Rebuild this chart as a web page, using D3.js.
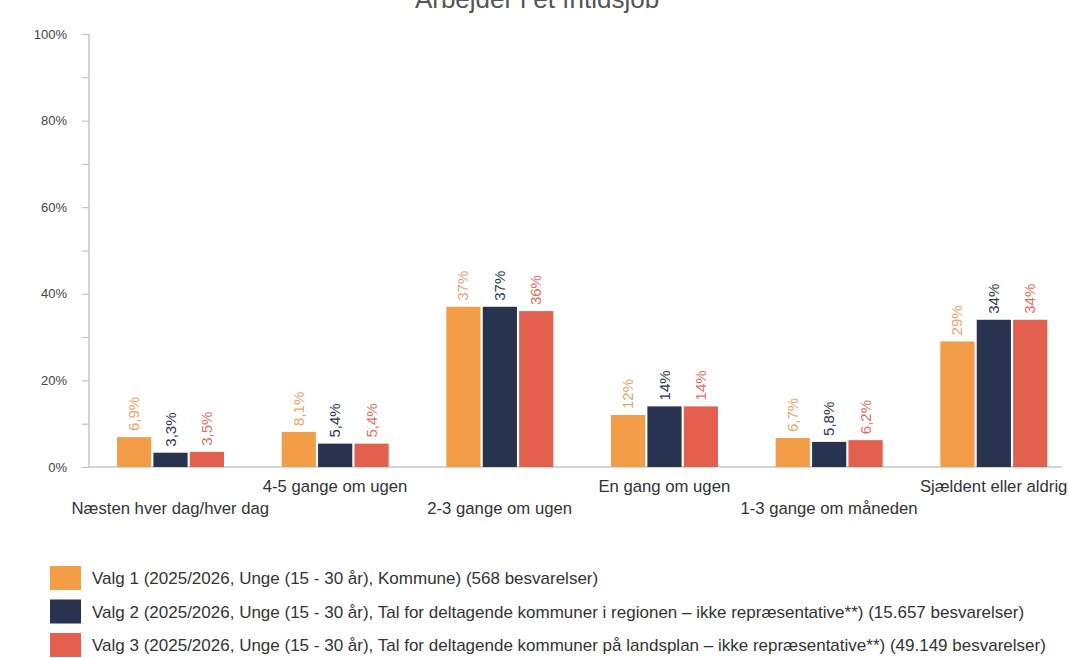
<!DOCTYPE html>
<html>
<head>
<meta charset="utf-8">
<script src="https://cdn.jsdelivr.net/npm/d3@7"></script>
<style>
  body { margin: 0; background: #fff; }
  svg { font-family: "Liberation Sans", Arial, sans-serif; }
</style>
</head>
<body>
<div id="chart"></div>
<script>
const categories = [
  'Næsten hver dag/hver dag',
  '4-5 gange om ugen',
  '2-3 gange om ugen',
  'En gang om ugen',
  '1-3 gange om måneden',
  'Sjældent eller aldrig'
]
const seriesNames = [
  'Valg 1 (2025/2026, Unge (15 - 30 år), Kommune) (568 besvarelser)',
  'Valg 2 (2025/2026, Unge (15 - 30 år), Tal for deltagende kommuner i regionen – ikke repræsentative**) (15.657 besvarelser)',
  'Valg 3 (2025/2026, Unge (15 - 30 år), Tal for deltagende kommuner på landsplan – ikke repræsentative**) (49.149 besvarelser)'
]
const valg1 = [6.9, 8.1, 37, 12, 6.7, 29]
const valg2 = [3.3, 5.4, 37, 14, 5.8, 34]
const valg3 = [3.5, 5.4, 36, 14, 6.2, 34]
const yTicks = [0, 20, 40, 60, 80, 100]

const barColors = ['#f39d48', '#28344f', '#e3604f']
const labelColors = ['#e7a56b', '#2e3852', '#e0705f']

const width = 1069, height = 658
const svg = d3.select('#chart').append('svg')
    .attr('width', width)
    .attr('height', height)

const x0 = d3.scaleBand().domain(d3.range(categories.length)).range([88, 1076])
const x1 = d3.scaleBand().domain([0, 1, 2]).range([29, 136]).paddingInner(0.06)
const y = d3.scaleLinear().domain([0, 100]).range([467, 34])

// title (cut at top edge like the reference)
svg.append('text')
    .attr('x', 537)
    .attr('y', 8)
    .attr('text-anchor', 'middle')
    .style('font-size', '26px')
    .style('fill', '#555')
    .text('Arbejder i et fritidsjob')

// y axis
const yAxis = svg.append('g')
    .attr('transform', 'translate(89,0)')
    .call(d3.axisLeft(y).tickValues(d3.range(0, 101, 10)).tickSize(7).tickFormat(d => yTicks.includes(d) ? d + '%' : ''))
yAxis.select('.domain').attr('stroke', '#aaa').attr('d', 'M0,' + y(100) + 'V' + y(0))
yAxis.selectAll('.tick line').attr('stroke', '#bbb')
yAxis.selectAll('.tick text')
    .attr('x', -22)
    .style('font-size', '13px')
    .style('fill', '#444')
    .style('font-family', '"Liberation Sans", Arial, sans-serif')

// baseline
svg.append('line')
    .attr('x1', 89).attr('x2', 1062)
    .attr('y1', y(0)).attr('y2', y(0))
    .attr('stroke', '#aaa')

const rows = categories.map((c, i) => [valg1[i], valg2[i], valg3[i]])
const fmt = v => (Number.isInteger(v) ? v : v.toFixed(1).replace('.', ',')) + '%'

const groups = svg.append('g').selectAll('g')
    .data(rows)
  .enter().append('g')
    .attr('transform', (d, i) => 'translate(' + x0(i) + ',0)')

groups.selectAll('rect')
    .data(d => d)
  .enter().append('rect')
    .attr('x', (d, j) => x1(j))
    .attr('width', x1.bandwidth())
    .attr('y', d => y(d))
    .attr('height', d => y(0) - y(d))
    .attr('fill', (d, j) => barColors[j])

groups.selectAll('text')
    .data(d => d)
  .enter().append('text')
    .attr('transform', (d, j) => 'translate(' + (x1(j) + x1.bandwidth() / 2 + 5) + ',' + (y(d) - 6) + ')rotate(-90)')
    .style('font-size', '15px')
    .style('fill', (d, j) => labelColors[j])
    .text(d => fmt(d))

// category labels, staggered
svg.append('g').selectAll('text')
    .data(categories)
  .enter().append('text')
    .attr('x', (d, i) => x0(i) + x0.bandwidth() / 2)
    .attr('y', (d, i) => i % 2 === 0 ? 514 : 492)
    .attr('text-anchor', 'middle')
    .style('font-size', '16.7px')
    .style('fill', '#333')
    .text(d => d)

// legend
const legend = svg.append('g').selectAll('g')
    .data(seriesNames)
  .enter().append('g')
    .attr('transform', (d, i) => 'translate(50,' + (566 + i * 33.5) + ')')
legend.append('rect')
    .attr('width', 31).attr('height', 24)
    .attr('fill', (d, i) => barColors[i])
legend.append('text')
    .attr('x', 42).attr('y', 18)
    .style('font-size', '17px')
    .style('fill', '#333')
    .text(d => d)
</script>
</body>
</html>
